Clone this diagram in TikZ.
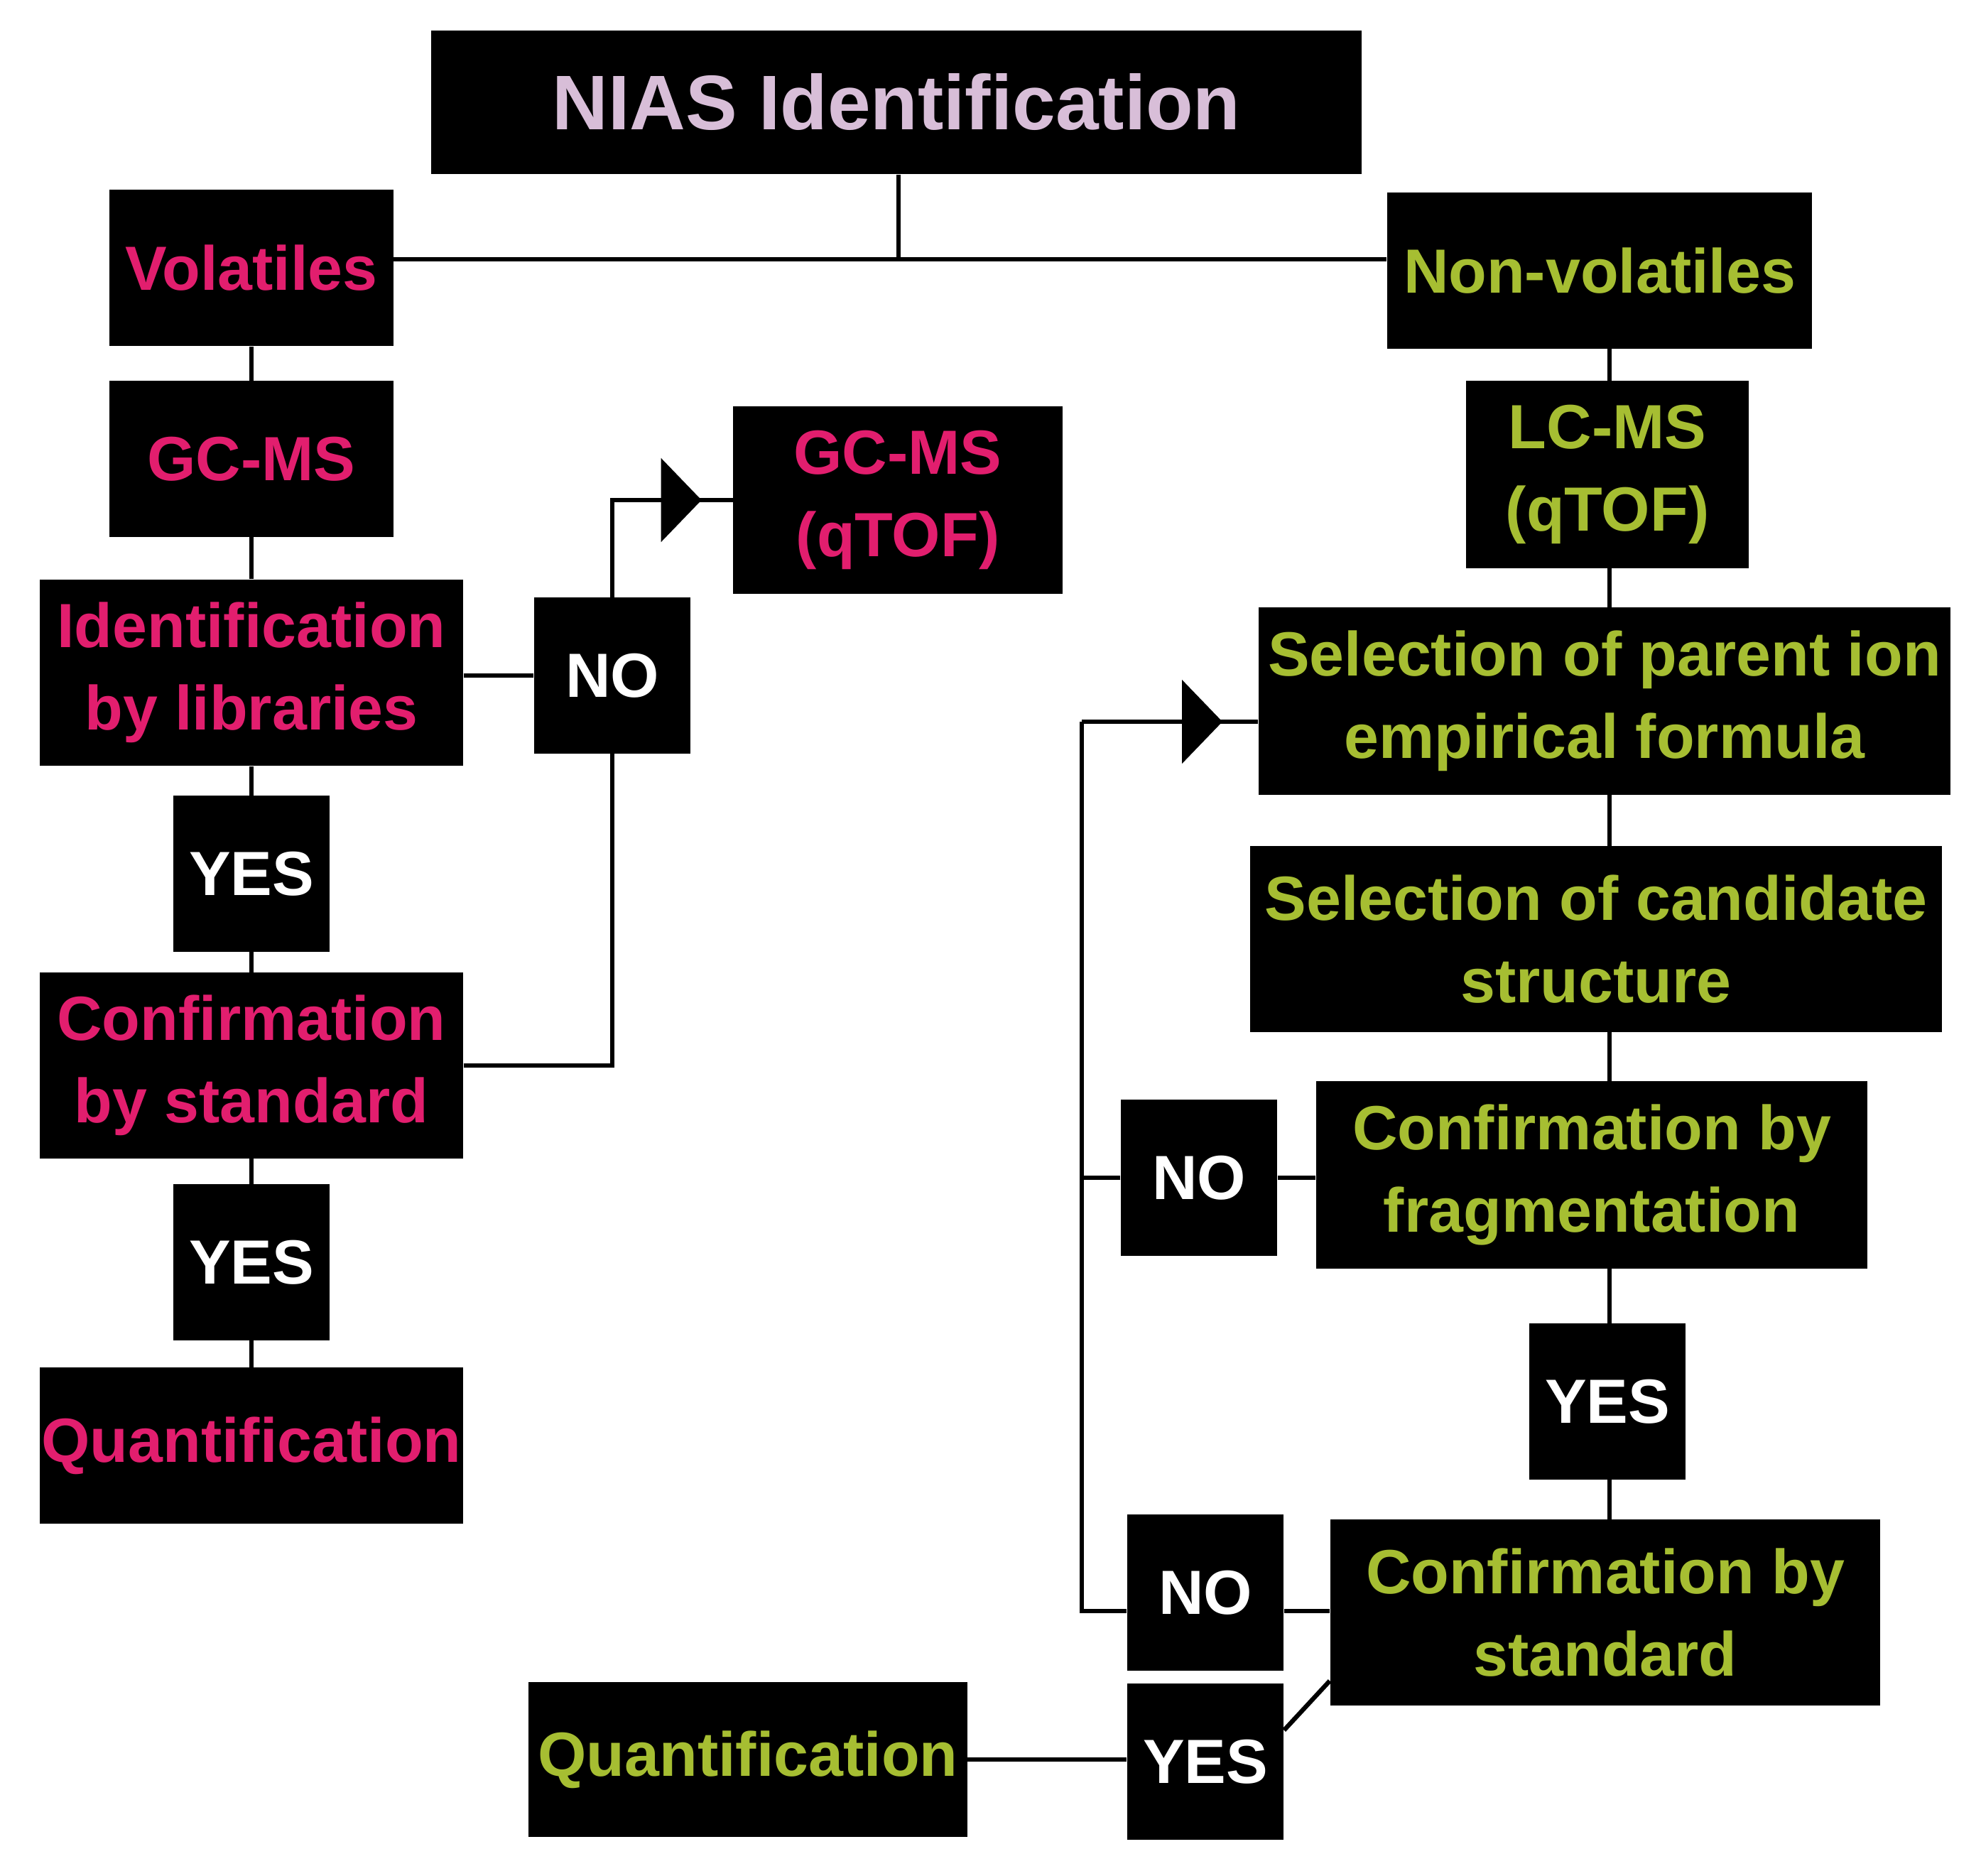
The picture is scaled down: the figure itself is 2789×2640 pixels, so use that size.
\documentclass[tikz,border=0pt]{standalone}
\usepackage{fontspec}
\setmainfont{Liberation Sans}
\usepackage{tikz}
\usetikzlibrary{arrows.meta,calc,positioning}
\definecolor{pk}{RGB}{226,30,110}
\definecolor{lime}{RGB}{166,190,50}
\definecolor{lav}{RGB}{216,190,216}

\tikzset{
  box/.style={fill=black, inner sep=0pt, align=center, font=\fontsize{25}{33}\selectfont\bfseries},
  sz/.style 2 args={minimum width=#1cm, minimum height=#2cm},
  vbox/.style={box, text=pk},
  nbox/.style={box, text=lime},
  ans/.style={box, text=white, sz={2.2}{2.19}},
  link/.style={line width=1.8pt},
  tip/.style={-{Triangle[length=0.57cm,width=1.17cm]}}
}

\begin{document}
\begin{tikzpicture}[x=0.01cm,y=-0.01cm]
  \useasboundingbox (0,0) rectangle (2789,2640);
  % top
  \node[box, text=lav, sz={13.1}{2.02}, font=\fontsize{31}{36}\selectfont\bfseries] (nias) at (1262,144) {NIAS Identification};
  \node[vbox, sz={3.99}{2.2}] (vol) at (354,377) {Volatiles};
  \node[nbox, sz={5.98}{2.19}] (nonvol) at (2252,381) {Non-volatiles};
  % volatiles branch
  \node[vbox, sz={3.99}{2.19}] (gcms) at (354,646) {GC-MS};
  \node[vbox, sz={4.63}{2.63}] (qtof) at (1264,704) {GC-MS\\(qTOF)};
  \node[vbox, sz={5.96}{2.62}] (idlib) at (354,947) {Identification\\by libraries};
  \node[ans] (noL) at (862,951) {NO};
  \node[ans] (yesA) at (354,1230) {YES};
  \node[vbox, sz={5.96}{2.61}] (confL) at (354,1500) {Confirmation\\by standard};
  \node[ans] (yesB) at (354,1777) {YES};
  \node[vbox, sz={5.96}{2.19}] (quantL) at (354,2035) {Quantification};
  % non-volatiles branch
  \node[nbox, sz={3.97}{2.63}] (lcms) at (2263,668) {LC-MS\\(qTOF)};
  \node[nbox, sz={9.74}{2.63}] (parent) at (2259,987) {Selection of parent ion\\empirical formula};
  \node[nbox, sz={9.73}{2.61}] (cand) at (2247,1322) {Selection of candidate\\structure};
  \node[ans] (noR) at (1688,1658) {NO};
  \node[nbox, sz={7.76}{2.63}] (frag) at (2241,1654) {Confirmation by\\fragmentation};
  \node[ans] (yesR) at (2263,1973) {YES};
  \node[ans] (noS) at (1697,2242) {NO};
  \node[nbox, sz={7.74}{2.61}] (stdR) at (2260,2270) {Confirmation by\\standard};
  \node[ans] (yesS) at (1697,2480) {YES};
  \node[nbox, sz={6.17}{2.18}] (quantR) at (1053,2477) {Quantification};

  \coordinate (split) at (1265,365);
  \coordinate (rsp) at (2266,0);
  \coordinate (lpT) at (1523,1016);
  \coordinate (lpB) at (1523,2268);

  \draw[link] (nias.south -| split) -- (split);
  \draw[link] (split -| vol.east) -- (split -| nonvol.west);
  \foreach \a/\b in {vol/gcms,gcms/idlib,idlib/yesA,yesA/confL,confL/yesB,yesB/quantL}
    \draw[link] (\a.south) -- (\b.north);
  \foreach \a/\b in {nonvol/lcms,lcms/parent,parent/cand,cand/frag,frag/yesR,yesR/stdR}
    \draw[link] (\a.south -| rsp) -- (\b.north -| rsp);
  % volatiles: NO loop
  \draw[link] (idlib.east |- noL) -- (noL.west);
  \draw[link] (confL.east) -| (noL.south);
  \draw[link, tip] (noL.north) |- ($(qtof.west)+(-44,0)$);
  \draw[link] ($(qtof.west)+(-50,0)$) -- (qtof.west);
  % non-volatiles: NO loop
  \draw[link] (frag.west |- noR) -- (noR.east);
  \draw[link] (noR.west) -- (noR.west -| lpB);
  \draw[link] (stdR.west |- lpB) -- (noS.east |- lpB);
  \draw[link] (noS.west |- lpB) -- (lpB) -- (lpT);
  \draw[link, tip] (lpT) -- ($(lpT -| parent.west)+(-50,0)$);
  \draw[link] ($(lpT -| parent.west)+(-56,0)$) -- (lpT -| parent.west);
  % yes to quantification
  \draw[link] ($(yesS.north east)+(0,66)$) -- ($(stdR.south west)+(0,-35)$);
  \draw[link] (quantR.east) -- (quantR.east -| yesS.west);
\end{tikzpicture}
\end{document}
